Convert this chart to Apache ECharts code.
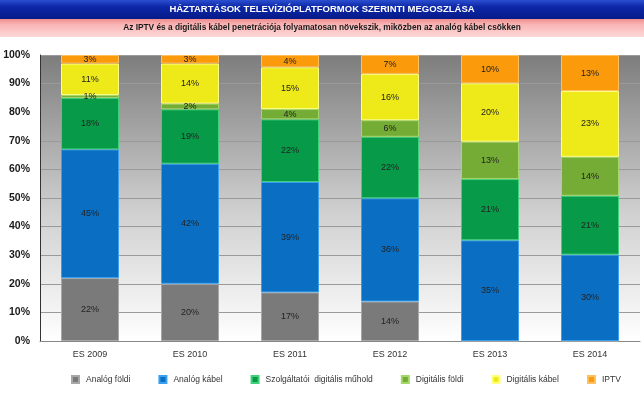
<!DOCTYPE html>
<html><head><meta charset="utf-8">
<script src="https://cdn.jsdelivr.net/npm/echarts@6/dist/echarts.min.js"></script>
<style>html,body{margin:0;padding:0;background:#fff}#c{width:644px;height:397px}</style>
</head><body><div id="c"></div>
<script>
const categories = ['ES 2009','ES 2010','ES 2011','ES 2012','ES 2013','ES 2014'];
const analogFoldi = [22, 20, 17, 13.8, 0, 0];
const analogKabel = [45, 42, 38.6, 36.1, 35.2, 30.2];
const szolgMuhold = [18, 19, 21.9, 21.5, 21.4, 20.6];
const digitalisFoldi = [1, 2, 3.6, 5.8, 13.1, 13.6];
const digitalisKabel = [11, 14, 14.6, 16.2, 20.4, 23.0];
const iptv = [3, 3, 4.3, 6.6, 9.9, 12.6];
const seriesNames = ['Analóg földi','Analóg kábel','Szolgáltatói  digitális műhold','Digitális földi','Digitális kábel','IPTV'];
const yTicks = [0,10,20,30,40,50,60,70,80,90,100];
const titleText = 'HÁZTARTÁSOK TELEVÍZIÓPLATFORMOK SZERINTI MEGOSZLÁSA';
const subtitleText = 'Az IPTV és a digitális kábel penetrációja folyamatosan növekszik, miközben az analóg kábel csökken';

const colors = ['#7a7a7a','#0a6fc2','#079a48','#74ac35','#eeea1a','#fb9a0a'];
const borders = ['#a8a8a8','#3aa0ee','#3fd07a','#a4d86a','#ffff80','#ffc060'];
const values = [analogFoldi, analogKabel, szolgMuhold, digitalisFoldi, digitalisKabel, iptv];

const chart = echarts.init(document.getElementById('c'), null, {renderer:'canvas'});
const FONT = '"Liberation Sans", Arial, sans-serif';
chart.setOption({
  animation:false,
  backgroundColor:'#ffffff',
  graphic:[
    {type:'rect', shape:{x:0,y:0,width:644,height:19}, z:0,
     style:{fill:new echarts.graphic.LinearGradient(0,0,0,1,[{offset:0,color:'#2b4fd0'},{offset:0.35,color:'#0d28a8'},{offset:1,color:'#061a88'}])}},
    {type:'rect', shape:{x:0,y:19,width:644,height:18}, z:0,
     style:{fill:new echarts.graphic.LinearGradient(0,0,0,1,[{offset:0,color:'#f08c8c'},{offset:0.3,color:'#f8b4b4'},{offset:1,color:'#ffd8d8'}])}},
    {type:'text', left:'center', top:4, z:2,
     style:{text:titleText, fill:'#ffffff', font:'bold 9.5px '+FONT, textAlign:'center'}},
    {type:'text', left:'center', top:24, z:2,
     style:{text:subtitleText, fill:'#1a1a1a', font:'bold 8.3px '+FONT, textAlign:'center'}}
  ],
  grid:{left:40, right:4, top:55, bottom:56, show:true, borderWidth:0,
        backgroundColor:new echarts.graphic.LinearGradient(0,0,0,1,[{offset:0,color:'#7d7d7d'},{offset:0.55,color:'#d0d0d0'},{offset:1,color:'#ffffff'}])},
  legend:{bottom:8, left:66, itemWidth:7, itemHeight:7, itemGap:28, icon:'rect',
          textStyle:{fontSize:8.5, color:'#333', fontFamily:FONT, padding:[0,0,0,2]}, data:seriesNames},
  xAxis:{type:'category', data:categories,
         axisLine:{show:true, lineStyle:{color:'#888', width:1}}, axisTick:{show:false},
         axisLabel:{fontSize:9, color:'#333', margin:9, fontFamily:FONT}},
  yAxis:{type:'value', min:0, max:100, interval:10,
         axisLine:{show:true, lineStyle:{color:'#333', width:1}}, axisTick:{show:false},
         splitLine:{show:true, lineStyle:{color:'#9a9a9a', width:1}},
         axisLabel:{formatter:v=>v+'%', fontSize:10.5, fontWeight:'bold', color:'#1a1a1a', margin:10, fontFamily:FONT}},
  series: seriesNames.map((n,i)=>({
    name:n, type:'bar', stack:'total', barWidth:58,
    data: values[i],
    itemStyle:{color:colors[i], borderColor:borders[i], borderWidth:1},
    label:{show:true, position:'inside', fontSize:9, color:'#222', fontFamily:FONT,
           formatter:p=> p.value>0 ? Math.round(p.value)+'%' : ''}
  }))
});
</script></body></html>
